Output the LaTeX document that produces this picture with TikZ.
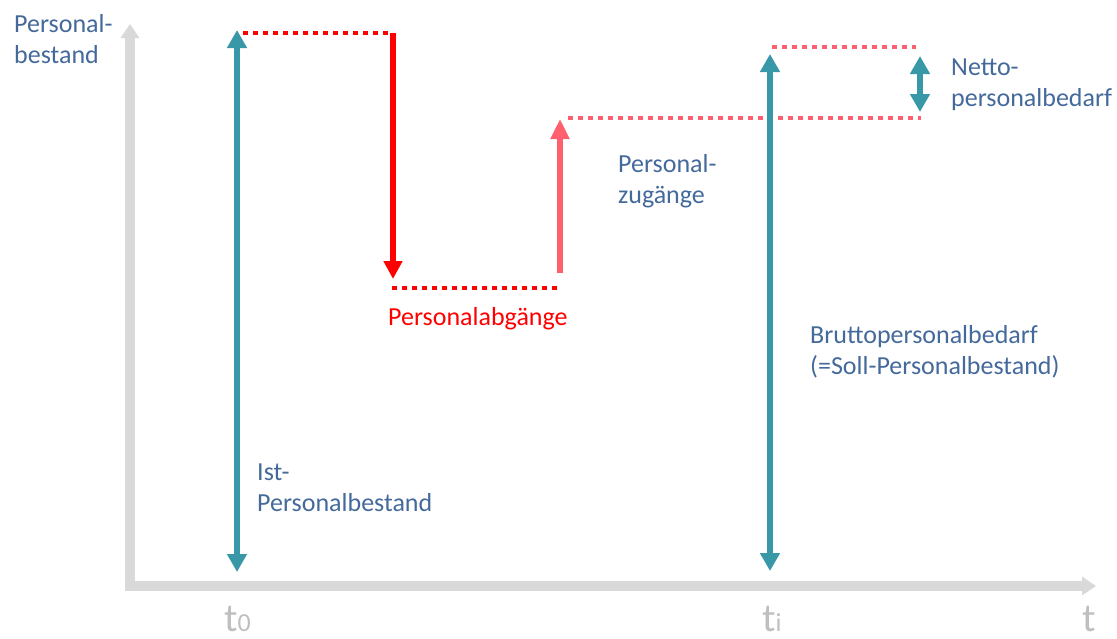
\documentclass[tikz,border=0pt]{standalone}
\usepackage{fontspec}
\setmainfont{Carlito}
\usetikzlibrary{arrows.meta}
\definecolor{txtblue}{RGB}{68,105,155}
\definecolor{teal2}{RGB}{56,152,168}
\definecolor{red2}{RGB}{255,0,0}
\definecolor{pink2}{RGB}{255,96,112}
\definecolor{axisgray}{RGB}{217,217,217}
\definecolor{tgray}{RGB}{191,191,191}
\newcommand\twol[2]{\vtop{\hbox{#1}\hbox{#2}}}
\tikzset{
  lbl/.style={anchor=base west, inner sep=0pt, font=\fontsize{26}{31.5}\selectfont, text=txtblue},
  tlbl/.style={anchor=base west, inner sep=0pt, font=\fontsize{40}{44}\selectfont, text=tgray},
  axisline/.style={draw=axisgray, line width=10pt, -{Triangle[width=18pt,length=14pt]}},
  bar/.style={line width=6pt, draw=teal2},
  tealdbl/.style={bar, {Triangle[width=19pt,length=18pt]}-{Triangle[width=19pt,length=18pt]}},
  dotline/.style={line width=4.5pt, dash pattern=on 5pt off 5pt},
}
\begin{document}
\begin{tikzpicture}[x=1pt,y=-1pt]
\useasboundingbox (0,0) rectangle (1117,638);
% coordinates
\coordinate (yb) at (130,591);
\coordinate (yt) at (130,24);
\coordinate (xl) at (125,586);
\coordinate (xr) at (1096,586);
\coordinate (a1t) at (237,30);
\coordinate (a1b) at (237,572);
\coordinate (r1s) at (243,33);
\coordinate (r1e) at (393,33);
\coordinate (r2t) at (393,33);
\coordinate (r2b) at (393,279);
\coordinate (r3s) at (392,288);
\coordinate (r3e) at (558,288);
\coordinate (p1b) at (560,273);
\coordinate (p1t) at (560,119);
\coordinate (p2s) at (568,118);
\coordinate (p2e) at (921,118);
\coordinate (p3s) at (772,47);
\coordinate (p3e) at (916,47);
\coordinate (a2t) at (770,54);
\coordinate (a2b) at (770,571);
\coordinate (a3t) at (920,56);
\coordinate (a3b) at (920,112);
% axes
\draw[axisline] (yb) -- (yt);
\draw[axisline] (xl) -- (xr);
% red / pink
\draw[dotline, draw=red2] (r1s) -- (r1e);
\draw[line width=6pt, draw=red2, -{Triangle[width=18pt,length=18pt]}] (r2t) -- (r2b);
\draw[dotline, draw=red2] (r3s) -- (r3e);
\draw[line width=6pt, draw=pink2, -{Triangle[width=18pt,length=20pt]}] (p1b) -- (p1t);
\draw[dotline, draw=pink2] (p2s) -- (p2e);
\draw[dotline, draw=pink2] (p3s) -- (p3e);
% teal arrows
\draw[tealdbl] (a1b) -- (a1t);
\draw[tealdbl] (a2b) -- (a2t);
\draw[tealdbl] (a3b) -- (a3t);
% labels
\node[lbl] (ylab) at (14,32) {\twol{Personal-}{bestand}};
\node[lbl] (ist) at (257,480) {\twol{Ist-}{Personalbestand}};
\node[lbl, text=red2] (abg) at (388,325) {Personalabgänge};
\node[lbl] (zug) at (618,172) {\twol{Personal-}{zugänge}};
\node[lbl] (brutto) at (810,343) {\twol{Bruttopersonalbedarf}{(=Soll-Personalbestand)}};
\node[lbl] (netto) at (951,75) {\twol{Netto-}{personalbedarf}};
\node[tlbl] (t0) at (224,631) {t{\fontsize{26}{28}\selectfont 0}};
\node[tlbl] (ti) at (762,631) {t{\fontsize{26}{28}\selectfont i}};
\node[tlbl] (tt) at (1082,631) {t};
\end{tikzpicture}
\end{document}
